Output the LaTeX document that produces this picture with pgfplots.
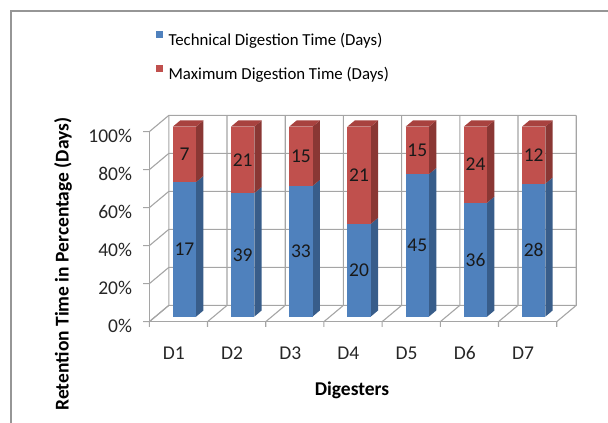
\documentclass[border=0pt]{standalone}
\usepackage{fontspec}
\setmainfont{Carlito}
\usepackage{pgfplots}
\usepackage{pgfplotstable}
\pgfplotsset{compat=1.18}

\definecolor{techblue}{RGB}{79,129,189}
\definecolor{techside}{RGB}{56,93,138}
\definecolor{maxred}{RGB}{192,80,77}
\definecolor{maxside}{RGB}{138,55,52}
\definecolor{maxtop}{RGB}{168,66,63}
\definecolor{gridgray}{RGB}{165,165,165}
\definecolor{framegray}{RGB}{150,150,150}

% retention times in days, per digester
\pgfplotstableread{
idx tech max
0 17 7
1 39 21
2 33 15
3 20 21
4 45 15
5 36 24
6 28 12
}\digest

\begin{document}
\begin{tikzpicture}
\path[use as bounding box] (0,0) rectangle (608pt,423pt);
\draw[framegray, line width=2pt] (10.7pt,-5pt) -- (10.7pt,412.3pt) -- (615pt,412.3pt);
\begin{axis}[
  at={(149.3pt,101.3pt)}, anchor=origin,
  x={(58.2pt,0pt)}, y={(19.5pt,16.3pt)}, z={(0pt,1.9pt)},
  xmin=0, xmax=7, ymin=0, ymax=1, zmin=0, zmax=100,
  clip=false,
  xtick={0,...,7},
  xticklabels={D1,D2,D3,D4,D5,D6,D7},
  x tick label as interval,
  ytick=\empty,
  ztick={0,20,40,60,80,100},
  zticklabels={0\%,20\%,40\%,60\%,80\%,100\%},
  axis line style={draw=none},
  tick style={draw=none},
  tick align=outside,
  major tick length=6pt,
  tick label style={font=\fontsize{19.5}{20}\selectfont, text=black!85},
  xticklabel style={anchor=base, yshift=-34.3pt},
  zticklabel style={anchor=east, inner sep=0pt, xshift=-12.5pt},
  xlabel={Digesters},
  zlabel={Retention Time in Percentage (Days)},
  every axis x label/.style={at={(rel axis cs:0.5,0,0)}, anchor=center,
    xshift=-1pt, yshift=-68.3pt, font=\bfseries\fontsize{19.5}{20}\selectfont},
  every axis z label/.style={at={(rel axis cs:0,0,0.5)}, anchor=center,
    rotate=90, xshift=-37.3pt, yshift=86.3pt, font=\bfseries\fontsize{19.5}{20}\selectfont},
  legend image code/.code={\fill[#1] (0pt,1.5pt) rectangle (7.5pt,9pt);},
  legend style={draw=none, fill=none, inner sep=0pt, outer sep=0pt,
    at={(rel axis cs:0.0160,0,1.5316)}, anchor=north west,
    font=\fontsize{16.8}{17}\selectfont, row sep=18.2pt, column sep=5.3pt,
    nodes={inner sep=0pt}},
  legend cell align=left,
  gridline/.style={forget plot, draw=gridgray, line width=1.1pt, mark=none},
]
\addlegendimage{fill=techblue, draw=none}
\addlegendentry{Technical Digestion Time (Days)}
\addlegendimage{fill=maxred, draw=none}
\addlegendentry{Maximum Digestion Time (Days)}

% walls: floor and back wall lines at category boundaries (with ticks),
% left wall and back wall lines at every 20 % (with ticks)
\pgfplotsinvokeforeach{0,...,7}{
  \addplot3[gridline] coordinates {(#1,0,-2.7) (#1,0,0) (#1,1,0) (#1,1,100)};
}
\pgfplotsinvokeforeach{0,20,40,60,80,100}{
  \addplot3[gridline] coordinates {(-0.108,0,#1) (0,0,#1) (0,1,#1) (7,1,#1)};
}
\addplot3[gridline] coordinates {(0,0,100) (0,0,0) (7,0,0)};

\pgfplotsforeachungrouped \i in {0,...,6}{%
  \pgfplotstablegetelem{\i}{tech}\of\digest \let\vt\pgfplotsretval
  \pgfplotstablegetelem{\i}{max}\of\digest \let\vm\pgfplotsretval
  \pgfmathsetmacro\pct{100*\vt/(\vt+\vm)}%
  \pgfmathsetmacro\xa{\i+0.3}%
  \pgfmathsetmacro\xb{\i+0.7}%
  \def\ya{0.3125}\def\yb{0.6875}%
  \edef\drawbar{%
    \noexpand\addplot3[forget plot, draw=none, fill=techside] coordinates
      {(\xb,\ya,0) (\xb,\yb,0) (\xb,\yb,\pct) (\xb,\ya,\pct)} --cycle;
    \noexpand\addplot3[forget plot, draw=none, fill=techblue] coordinates
      {(\xa,\ya,0) (\xb,\ya,0) (\xb,\ya,\pct) (\xa,\ya,\pct)} --cycle;
    \noexpand\addplot3[forget plot, draw=none, fill=maxside] coordinates
      {(\xb,\ya,\pct) (\xb,\yb,\pct) (\xb,\yb,100) (\xb,\ya,100)} --cycle;
    \noexpand\addplot3[forget plot, draw=none, fill=maxred] coordinates
      {(\xa,\ya,\pct) (\xb,\ya,\pct) (\xb,\ya,100) (\xa,\ya,100)} --cycle;
    \noexpand\addplot3[forget plot, draw=none, fill=maxtop] coordinates
      {(\xa,\ya,100) (\xb,\ya,100) (\xb,\yb,100) (\xa,\yb,100)} --cycle;
  }\drawbar
}

\addplot3[forget plot, draw=none, mark=none, nodes near coords,
  point meta=explicit symbolic,
  every node near coord/.style={anchor=center, font=\fontsize{19.5}{20}\selectfont, text=black!90}]
  table[x expr=\thisrow{idx}+0.5, y expr=0.3125,
    z expr={50*\thisrow{tech}/(\thisrow{tech}+\thisrow{max})}, meta=tech] {\digest};
\addplot3[forget plot, draw=none, mark=none, nodes near coords,
  point meta=explicit symbolic,
  every node near coord/.style={anchor=center, font=\fontsize{19.5}{20}\selectfont, text=black!90}]
  table[x expr=\thisrow{idx}+0.5, y expr=0.3125,
    z expr={50+50*\thisrow{tech}/(\thisrow{tech}+\thisrow{max})}, meta=max] {\digest};
\end{axis}
\end{tikzpicture}
\end{document}
